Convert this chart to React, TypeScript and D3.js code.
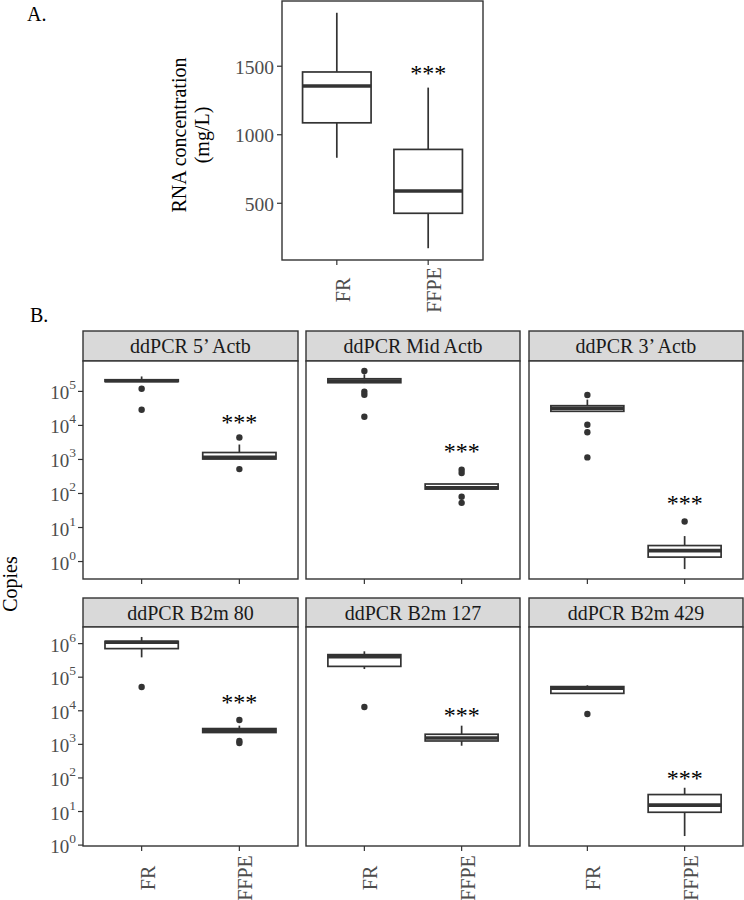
import React from "react";
import * as d3 from "d3";

// ---------- data ----------
const groups = ["FR", "FFPE"];

// Panel A: RNA concentration (mg/L)
const rnaLow = [832, 172];
const rnaQ1 = [1087, 427];
const rnaMed = [1356, 590];
const rnaQ3 = [1458, 893];
const rnaHigh = [1890, 1344];
const rnaTicks = [500, 1000, 1500];
const rnaStar = 1470;

// Panel B: ddPCR copies
const panelTitles = [
  "ddPCR 5\u2019 Actb",
  "ddPCR Mid Actb",
  "ddPCR 3\u2019 Actb",
  "ddPCR B2m 80",
  "ddPCR B2m 127",
  "ddPCR B2m 429",
];
const frLow = [1.95e5, 1.75e5, 2.6e4, 3.9e5, 1.75e5, 3.3e4];
const frQ1 = [1.95e5, 1.8e5, 2.6e4, 7.1e5, 2.1e5, 3.3e4];
const frMed = [2.05e5, 2.0e5, 3.2e4, 1.1e6, 4.1e5, 4.7e4];
const frQ3 = [2.2e5, 2.35e5, 3.8e4, 1.17e6, 4.7e5, 5.25e4];
const frHigh = [2.75e5, 3.2e5, 5.75e4, 1.58e6, 5.9e5, 5.75e4];
const frOut = [
  [1.2e5, 2.9e4],
  [4.0e5, 9.8e4, 8.0e4, 1.8e4],
  [7.8e4, 1.05e4, 6.3e3, 1.15e3],
  [5.1e4],
  [1.3e4],
  [8.0e3],
];
const ffLow = [1.0e3, 1.3e2, 0.6, 2.2e3, 9.1e2, 1.86];
const ffQ1 = [1.03e3, 1.35e2, 1.35, 2.25e3, 1.26e3, 9.5];
const ffMed = [1.15e3, 1.48e2, 2.1, 2.6e3, 1.55e3, 15.5];
const ffQ3 = [1.6e3, 1.9e2, 2.95, 2.95e3, 2.0e3, 32];
const ffHigh = [2.75e3, 1.9e2, 5.6, 3.6e3, 3.6e3, 51];
const ffOut = [
  [4.4e3, 5.2e2],
  [5.0e2, 4.0e2, 8.0e1, 5.3e1],
  [15],
  [5.3e3, 1.26e3, 1.1e3],
  [],
  [],
];
const starValues = [1.5e4, 2.1e3, 66, 2.2e4, 9.5e3, 123];
const topTicks = [1, 10, 100, 1e3, 1e4, 1e5];
const bottomTicks = [1, 10, 100, 1e3, 1e4, 1e5, 1e6];

// ---------- style ----------
const FONT = "'Liberation Serif', 'Times New Roman', serif";
const GREY = "#333333";
const TICKTXT = "#4d4d4d";
const BOXW = 1.7;
const MEDW = 3.6;

type Stats = { low: number; q1: number; med: number; q3: number; high: number; out: number[] };

function Box({ xc, w, y, s }: { xc: number; w: number; y: (v: number) => number; s: Stats }) {
  const top = y(s.q3);
  const bot = y(s.q1);
  return (
    <g>
      <line x1={xc} x2={xc} y1={y(s.high)} y2={top} stroke={GREY} strokeWidth={BOXW} />
      <line x1={xc} x2={xc} y1={bot} y2={y(s.low)} stroke={GREY} strokeWidth={BOXW} />
      <rect x={xc - w / 2} y={top} width={w} height={Math.max(bot - top, 0.01)} fill="white" stroke={GREY} strokeWidth={BOXW} />
      <line x1={xc - w / 2} x2={xc + w / 2} y1={y(s.med)} y2={y(s.med)} stroke={GREY} strokeWidth={MEDW} />
      {s.out.map((o, i) => (
        <circle key={i} cx={xc} cy={y(o)} r={3.2} fill={GREY} />
      ))}
    </g>
  );
}

function logDomain(panels: number[]) {
  const vals: number[] = [];
  panels.forEach((p) => {
    vals.push(frLow[p], frHigh[p], ffLow[p], ffHigh[p], ...frOut[p], ...ffOut[p]);
  });
  const [lo, hi] = d3.extent(vals.map((v) => Math.log10(v))) as [number, number];
  const pad = (hi - lo) * 0.05;
  return [Math.pow(10, lo - pad), Math.pow(10, hi + pad)];
}

const colX = [
  [83, 298],
  [306, 520],
  [529, 743],
];
const rows = [
  { stripTop: 331, plotTop: 361, plotBottom: 579, panels: [0, 1, 2], ticks: topTicks, labels: false },
  { stripTop: 598, plotTop: 627, plotBottom: 846, panels: [3, 4, 5], ticks: bottomTicks, labels: true },
];

function XLabels({ x, yc }: { x: d3.ScalePoint<string>; yc: number }) {
  return (
    <g>
      {groups.map((g) => (
        <text
          key={g}
          transform={`translate(${(x(g) as number) + 13},${yc}) rotate(-90)`}
          textAnchor="middle"
          fontSize={20}
          fill={TICKTXT}
          fontFamily={FONT}
        >
          {g}
        </text>
      ))}
    </g>
  );
}

function PanelA() {
  const x0 = 282, x1 = 483, y0 = 1, y1 = 260;
  const lo = Math.min(...rnaLow), hi = Math.max(...rnaHigh);
  const pad = (hi - lo) * 0.05;
  const y = d3.scaleLinear().domain([lo - pad, hi + pad]).range([y1, y0]);
  const x = d3.scalePoint<string>().domain(groups).range([x0, x1]).padding(0.6);
  const w = x.step() * 0.75;
  return (
    <g>
      <text x={27} y={21} fontSize={20} fontFamily={FONT} fill="black">A.</text>
      <text transform={`translate(186,135) rotate(-90)`} textAnchor="middle" fontSize={20} fontFamily={FONT}>RNA concentration</text>
      <text transform={`translate(209,135) rotate(-90)`} textAnchor="middle" fontSize={20} fontFamily={FONT}>(mg/L)</text>
      <rect x={x0} y={y0} width={x1 - x0} height={y1 - y0} fill="white" />
      {groups.map((g, i) => (
        <Box key={g} xc={x(g) as number} w={w} y={y}
          s={{ low: rnaLow[i], q1: rnaQ1[i], med: rnaMed[i], q3: rnaQ3[i], high: rnaHigh[i], out: [] }} />
      ))}
      <text x={x("FFPE") as number} y={y(rnaStar) + 11} textAnchor="middle" fontSize={24} fontFamily={FONT}>***</text>
      <rect x={x0} y={y0} width={x1 - x0} height={y1 - y0} fill="none" stroke={GREY} strokeWidth={1.4} />
      {rnaTicks.map((t) => (
        <g key={t}>
          <line x1={x0 - 5} x2={x0} y1={y(t)} y2={y(t)} stroke={GREY} strokeWidth={1.2} />
          <text x={x0 - 8} y={y(t) + 1} textAnchor="end" dominantBaseline="central" fontSize={19.5} fill={TICKTXT} fontFamily={FONT}>{t}</text>
        </g>
      ))}
      {groups.map((g) => (
        <line key={g} x1={x(g) as number} x2={x(g) as number} y1={y1} y2={y1 + 5} stroke={GREY} strokeWidth={1.2} />
      ))}
      <XLabels x={x} yc={y1 + 30} />
    </g>
  );
}

function PanelB() {
  return (
    <g>
      <text x={30} y={322} fontSize={20} fontFamily={FONT}>B.</text>
      <text transform={`translate(17,584) rotate(-90)`} textAnchor="middle" fontSize={20} fontFamily={FONT}>Copies</text>
      {rows.map((row, ri) => {
        const y = d3.scaleLog().domain(logDomain(row.panels)).range([row.plotBottom, row.plotTop]);
        return (
          <g key={ri}>
            {row.panels.map((p, ci) => {
              const [x0, x1] = colX[ci];
              const x = d3.scalePoint<string>().domain(groups).range([x0, x1]).padding(0.6);
              const w = x.step() * 0.75;
              const fr: Stats = { low: frLow[p], q1: frQ1[p], med: frMed[p], q3: frQ3[p], high: frHigh[p], out: frOut[p] };
              const ff: Stats = { low: ffLow[p], q1: ffQ1[p], med: ffMed[p], q3: ffQ3[p], high: ffHigh[p], out: ffOut[p] };
              return (
                <g key={p}>
                  <rect x={x0} y={row.stripTop} width={x1 - x0} height={row.plotTop - row.stripTop} fill="#d9d9d9" stroke={GREY} strokeWidth={1.4} />
                  <text x={(x0 + x1) / 2} y={(row.stripTop + row.plotTop) / 2} textAnchor="middle" dominantBaseline="central" fontSize={20} fill="#1a1a1a" fontFamily={FONT}>
                    {panelTitles[p]}
                  </text>
                  <rect x={x0} y={row.plotTop} width={x1 - x0} height={row.plotBottom - row.plotTop} fill="white" />
                  <Box xc={x("FR") as number} w={w} y={y} s={fr} />
                  <Box xc={x("FFPE") as number} w={w} y={y} s={ff} />
                  <text x={x("FFPE") as number} y={y(starValues[p]) + 11} textAnchor="middle" fontSize={24} fontFamily={FONT}>***</text>
                  <rect x={x0} y={row.plotTop} width={x1 - x0} height={row.plotBottom - row.plotTop} fill="none" stroke={GREY} strokeWidth={1.4} />
                  {groups.map((g) => (
                    <line key={g} x1={x(g) as number} x2={x(g) as number} y1={row.plotBottom} y2={row.plotBottom + 5} stroke={GREY} strokeWidth={1.2} />
                  ))}
                  {row.labels && <XLabels x={x} yc={row.plotBottom + 32} />}
                  {ci === 0 &&
                    row.ticks.map((t) => (
                      <g key={t}>
                        <line x1={x0 - 5} x2={x0} y1={y(t)} y2={y(t)} stroke={GREY} strokeWidth={1.2} />
                        <text x={x0 - 7} y={y(t) + 1} textAnchor="end" dominantBaseline="central" fill={TICKTXT} fontFamily={FONT}>
                          <tspan fontSize={19}>10</tspan>
                          <tspan fontSize={13.5} dy={-8}>{Math.round(Math.log10(t))}</tspan>
                        </text>
                      </g>
                    ))}
                </g>
              );
            })}
          </g>
        );
      })}
    </g>
  );
}

export default function App() {
  return (
    <svg width={744} height={900} style={{ position: "absolute", left: 0, top: 0, background: "white" }} fontFamily={FONT}>
      <rect width={744} height={900} fill="white" />
      <PanelA />
      <PanelB />
    </svg>
  );
}
